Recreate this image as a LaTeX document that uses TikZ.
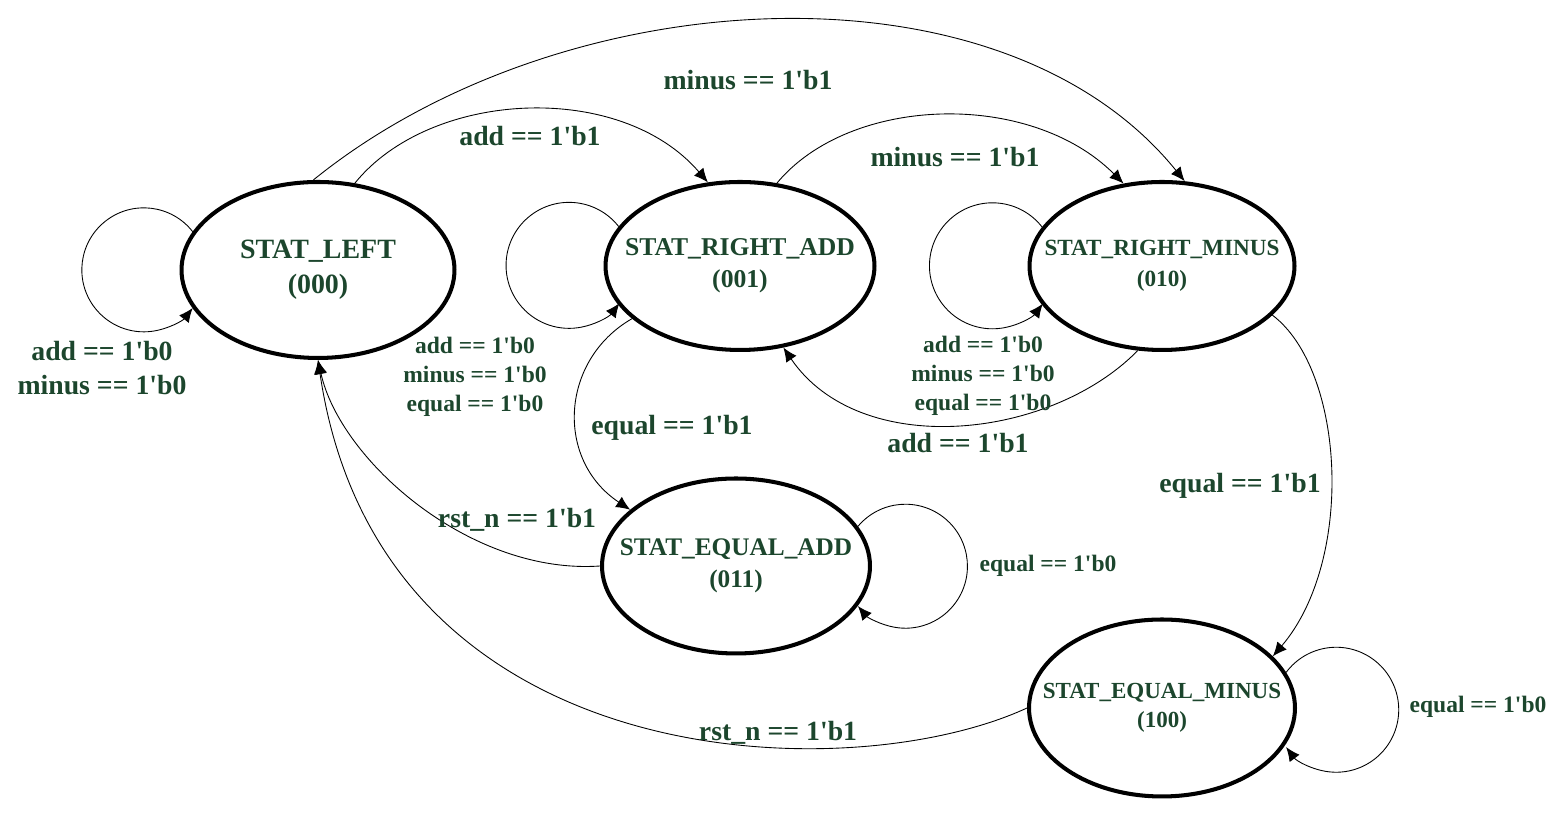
\documentclass[tikz,border=0pt]{standalone}
\usepackage{fontspec}
\setmainfont{Liberation Serif}
\usetikzlibrary{shapes.geometric}
\usetikzlibrary{arrows, arrows.meta}
\definecolor{fsmgreen}{RGB}{28,70,45}
\newcommand{\bq}{\textquotesingle}
\newcommand{\stt}[2]{\makebox[0pt]{#1}\\\makebox[0pt]{#2}}

\tikzset{
  state/.style={ellipse, draw, line width=2.3pt, inner sep=0pt, align=center,
    text=fsmgreen},
  trans/.style={line width=0.5pt, ->},
  cond/.style={text=fsmgreen, font=\bfseries\fontsize{15.8}{19}\selectfont,
    align=center, inner sep=0pt},
  condsmall/.style={cond, font=\bfseries\fontsize{13.4}{16.5}\selectfont}
}

\begin{document}
\begin{tikzpicture}[x=0.02cm, y=0.02cm, >={Latex[length=8pt,width=7pt]}]
\useasboundingbox (0,0) rectangle (1562,830);

% states
\node[state, minimum width=5.46cm, minimum height=3.52cm,
  font=\bfseries\fontsize{15.9}{20}\selectfont] (left) at (318,560) {\stt{STAT\_LEFT}{(000)}};
\node[state, minimum width=5.38cm, minimum height=3.36cm,
  font=\bfseries\fontsize{14.6}{18.5}\selectfont] (radd) at (740,564) {\stt{STAT\_RIGHT\_ADD}{(001)}};
\node[state, minimum width=5.30cm, minimum height=3.36cm,
  font=\bfseries\fontsize{13.2}{17.5}\selectfont] (rmin) at (1162,564) {\stt{STAT\_RIGHT\_MINUS}{(010)}};
\node[state, minimum width=5.36cm, minimum height=3.50cm,
  font=\bfseries\fontsize{14.4}{18}\selectfont] (eadd) at (736,264) {\stt{STAT\_EQUAL\_ADD}{(011)}};
\node[state, minimum width=5.32cm, minimum height=3.54cm,
  font=\bfseries\fontsize{13.1}{16.5}\selectfont] (emin) at (1162,122) {\stt{STAT\_EQUAL\_MINUS}{(100)}};

% self loops
\draw[trans] (left.163.3) arc[start angle=38, end angle=322, radius=62];
\draw[trans] (radd.162.5) arc[start angle=38, end angle=323, radius=63];
\draw[trans] (rmin.162.5) arc[start angle=38, end angle=323, radius=63];
\draw[trans] (eadd.18.3) arc[start angle=140, end angle=-140, radius=62];
\draw[trans] (emin.16.9) arc[start angle=143.3, end angle=-143.3, radius=62.5];

% transitions
\draw[trans] (left.93.3) .. controls (560,850) and (1000,877) .. (rmin.75.4);
\draw[trans] (left.67.2) .. controls (430,740) and (620,750) .. (radd.111.4);
\draw[trans] (radd.66.2) .. controls (850,735) and (1030,740) .. (rmin.115);
\draw[trans] (rmin.254.8) .. controls (1050,390) and (860,370) .. (radd.298.5);
\draw[trans] (radd.206) .. controls (560,470) and (555,370) .. (eadd.152);
\draw[trans] (eadd.180) .. controls (470,255) and (340,370) .. (left.270);
\draw[trans] (emin.180) .. controls (850,40) and (380,50) .. (left.270);
\draw[trans] (rmin.336) .. controls (1345,460) and (1355,270) .. (emin.25);

% conditions
\node[cond] (cMinusTop) at (748,750) {minus == 1\bq b1};
\node[cond] (cAddTop) at (530,694) {add == 1\bq b1};
\node[cond] (cMinusMid) at (955,673) {minus == 1\bq b1};
\node[cond] (cLeftStay) at (102,462) {add == 1\bq b0\\minus == 1\bq b0};
\node[condsmall] (cAddStay) at (475,453) {add == 1\bq b0\\minus == 1\bq b0\\equal == 1\bq b0};
\node[condsmall] (cMinusStay) at (983,454) {add == 1\bq b0\\minus == 1\bq b0\\equal == 1\bq b0};
\node[cond] (cAddBack) at (958,387) {add == 1\bq b1};
\node[cond] (cEqAdd) at (672,402) {equal == 1\bq b1};
\node[cond] (cRstAdd) at (517,310) {rst\_n == 1\bq b1};
\node[condsmall] (cEqAddStay) at (1048,264) {equal == 1\bq b0};
\node[cond] (cEqMinus) at (1240,344) {equal == 1\bq b1};
\node[cond] (cRstMinus) at (778,97) {rst\_n == 1\bq b1};
\node[condsmall] (cEqMinusStay) at (1478,123) {equal == 1\bq b0};

\end{tikzpicture}
\end{document}
